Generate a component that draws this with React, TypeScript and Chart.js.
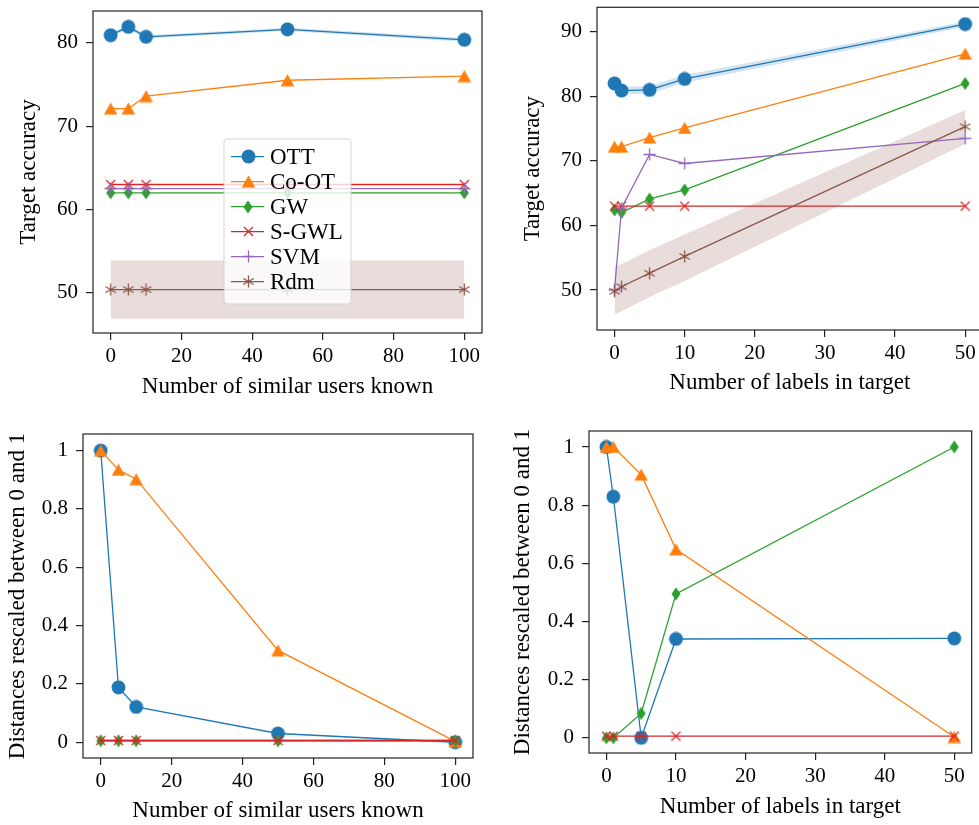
import React, { useEffect, useRef } from "react";
import { Chart, registerables } from "chart.js";
Chart.register(...registerables);

// ---------- colours ----------
const C_OTT = "#1f77b4";
const C_COOT = "#ff7f0e";
const C_GW = "#2ca02c";
const C_SGWL = "#d62728";
const C_SVM = "#9467bd";
const C_RDM = "#8c564b";
const BAND_BLUE = "rgba(31,119,180,0.2)";
const BAND_BROWN = "rgba(140,86,75,0.2)";

// ---------- top-left: accuracy vs similar users ----------
const tlX = [0, 5, 10, 50, 100];
const tlOTT = [80.9, 81.9, 80.7, 81.6, 80.35];
const tlOTTLow = [80.7, 81.6, 80.5, 81.4, 80.1];
const tlOTTHigh = [81.1, 82.2, 80.9, 81.8, 80.6];
const tlCoOT = [72.1, 72.1, 73.6, 75.5, 76.0];
const tlGW = [62.0, 62.0, 62.0, 62.0, 62.0];
const tlSGWL = [63.0, 63.0, 63.0, 63.0, 63.0];
const tlSVM = [62.5, 62.5, 62.5, 62.5, 62.5];
const tlRdm = [50.4, 50.4, 50.4, 50.4, 50.4];
const tlRdmLow = [46.9, 46.9, 46.9, 46.9, 46.9];
const tlRdmHigh = [53.9, 53.9, 53.9, 53.9, 53.9];
const tlXTicks = [0, 20, 40, 60, 80, 100];
const tlXTickLabels = ["0", "20", "40", "60", "80", "100"];
const tlYTicks = [50, 60, 70, 80];
const tlYTickLabels = ["50", "60", "70", "80"];

// ---------- top-right: accuracy vs labels in target ----------
const trX = [0, 1, 5, 10, 50];
const trOTT = [82.0, 80.9, 81.0, 82.7, 91.2];
const trOTTLow = [81.5, 80.3, 80.4, 82.1, 90.8];
const trOTTHigh = [82.5, 81.5, 81.6, 83.3, 91.6];
const trCoOT = [72.2, 72.2, 73.6, 75.1, 86.6];
const trGW = [62.4, 62.0, 64.1, 65.5, 82.0];
const trSGWL = [63.0, 63.0, 63.0, 63.0, 63.0];
const trSVM = [50.0, 62.7, 71.0, 69.6, 73.5];
const trRdm = [49.8, 50.5, 52.6, 55.2, 75.3];
const trRdmLow = [46.2, 46.7, 48.9, 51.4, 72.6];
const trRdmHigh = [53.6, 54.0, 56.2, 58.6, 77.9];
const trXTicks = [0, 10, 20, 30, 40, 50];
const trXTickLabels = ["0", "10", "20", "30", "40", "50"];
const trYTicks = [50, 60, 70, 80, 90];
const trYTickLabels = ["50", "60", "70", "80", "90"];

// ---------- bottom-left: distances vs similar users ----------
const blX = [0, 5, 10, 50, 100];
const blOTT = [1.0, 0.188, 0.121, 0.03, 0.0];
const blCoOT = [1.0, 0.934, 0.902, 0.315, 0.003];
const blGW = [0.005, 0.005, 0.005, 0.005, 0.005];
const blSGWL = [0.006, 0.006, 0.006, 0.006, 0.006];
const blRdm = [0.006, 0.006, 0.006, 0.006, 0.006];
const blXTicks = [0, 20, 40, 60, 80, 100];
const blXTickLabels = ["0", "20", "40", "60", "80", "100"];
const distTicks = [0, 0.2, 0.4, 0.6, 0.8, 1];
const distTickLabels = ["0", "0.2", "0.4", "0.6", "0.8", "1"];

// ---------- bottom-right: distances vs labels in target ----------
const brX = [0, 1, 5, 10, 50];
const brOTT = [1.0, 0.829, 0.0, 0.34, 0.342];
const brCoOT = [1.0, 1.0, 0.905, 0.648, 0.003];
const brGW = [0.0, 0.0, 0.084, 0.495, 1.0];
const brSGWL = [0.006, 0.006, 0.006, 0.006, 0.006];
const brXTicks = [0, 10, 20, 30, 40, 50];
const brXTickLabels = ["0", "10", "20", "30", "40", "50"];

const legendNames = ["OTT", "Co-OT", "GW", "S-GWL", "SVM", "Rdm"];
const legendColors = [C_OTT, C_COOT, C_GW, C_SGWL, C_SVM, C_RDM];
const legendMarkers = ["circle", "triangle", "diamond", "x", "plus", "star"];

const FONT_FAMILY = "'Liberation Serif', 'Times New Roman', serif";

// ---------- markers ----------
function makeMarker(kind: string, color: string): HTMLCanvasElement {
  const c = document.createElement("canvas");
  let w = 15, h = 15;
  if (kind === "triangle") { w = 15; h = 13; }
  if (kind === "diamond") { w = 10; h = 14; }
  if (kind === "x") { w = 11; h = 11; }
  if (kind === "plus") { w = 13; h = 13; }
  if (kind === "star") { w = 13; h = 13; }
  c.width = w; c.height = h;
  const ctx = c.getContext("2d")!;
  ctx.fillStyle = color;
  ctx.strokeStyle = color;
  ctx.lineWidth = 1.3;
  ctx.beginPath();
  if (kind === "circle") {
    ctx.arc(7.5, 7.5, 6.9, 0, Math.PI * 2);
    ctx.fill();
  } else if (kind === "triangle") {
    ctx.moveTo(7.5, 0.5); ctx.lineTo(14.3, 12.5); ctx.lineTo(0.7, 12.5); ctx.closePath();
    ctx.fill();
  } else if (kind === "diamond") {
    ctx.moveTo(5, 0.5); ctx.lineTo(9.5, 7); ctx.lineTo(5, 13.5); ctx.lineTo(0.5, 7); ctx.closePath();
    ctx.fill();
  } else if (kind === "x") {
    ctx.moveTo(1, 1); ctx.lineTo(10, 10); ctx.moveTo(10, 1); ctx.lineTo(1, 10);
    ctx.stroke();
  } else if (kind === "plus") {
    ctx.moveTo(6.5, 0.5); ctx.lineTo(6.5, 12.5); ctx.moveTo(0.5, 6.5); ctx.lineTo(12.5, 6.5);
    ctx.stroke();
  } else if (kind === "star") {
    const r = 6;
    for (const a of [90, 30, 150]) {
      const rad = (a * Math.PI) / 180;
      ctx.moveTo(6.5 + Math.cos(rad) * r, 6.5 - Math.sin(rad) * r);
      ctx.lineTo(6.5 - Math.cos(rad) * r, 6.5 + Math.sin(rad) * r);
    }
    ctx.stroke();
  }
  return c;
}

// ---------- plugins ----------
const framePlugin = {
  id: "frameBox",
  afterDatasetsDraw(chart: any) {
    const { ctx, chartArea: a } = chart;
    ctx.save();
    ctx.strokeStyle = "#222";
    ctx.lineWidth = 1.2;
    ctx.strokeRect(a.left, a.top, a.right - a.left, a.bottom - a.top);
    ctx.restore();
  },
};

const legendPlugin = {
  id: "boxLegend",
  afterDraw(chart: any, _args: any, opts: any) {
    if (!opts || !opts.show) return;
    const ctx = chart.ctx as CanvasRenderingContext2D;
    const { x, y, w, h } = opts;
    ctx.save();
    const r = 3;
    ctx.beginPath();
    ctx.moveTo(x + r, y);
    ctx.lineTo(x + w - r, y);
    ctx.quadraticCurveTo(x + w, y, x + w, y + r);
    ctx.lineTo(x + w, y + h - r);
    ctx.quadraticCurveTo(x + w, y + h, x + w - r, y + h);
    ctx.lineTo(x + r, y + h);
    ctx.quadraticCurveTo(x, y + h, x, y + h - r);
    ctx.lineTo(x, y + r);
    ctx.quadraticCurveTo(x, y, x + r, y);
    ctx.closePath();
    ctx.fillStyle = "rgba(255,255,255,0.8)";
    ctx.fill();
    ctx.strokeStyle = "rgba(204,204,204,0.8)";
    ctx.lineWidth = 1;
    ctx.stroke();
    const markers = opts.markers as HTMLCanvasElement[];
    legendNames.forEach((name, i) => {
      const cy = y + 17.7 + i * 25;
      ctx.strokeStyle = legendColors[i];
      ctx.lineWidth = 1.3;
      ctx.beginPath();
      ctx.moveTo(x + 7, cy);
      ctx.lineTo(x + 40, cy);
      ctx.stroke();
      const m = markers[i];
      ctx.drawImage(m, Math.round(x + 24 - m.width / 2), Math.round(cy - m.height / 2));
      ctx.fillStyle = "#000";
      ctx.font = `23px ${FONT_FAMILY}`;
      ctx.textBaseline = "middle";
      ctx.textAlign = "left";
      ctx.fillText(name, x + 46, cy + 1);
    });
    ctx.restore();
  },
};

// ---------- panel ----------
type Series = { color: string; marker: string | null; x: number[]; y: number[] };
type Band = { x: number[]; lo: number[]; hi: number[]; color: string };
type Panel = {
  left: number; top: number; width: number; height: number;
  yAxisWidth: number; xAxisHeight: number; padRight: number; padTop: number;
  xMin: number; xMax: number; xTicks: number[]; xTickLabels: string[];
  yMin: number; yMax: number; yTicks: number[]; yTickLabels: string[];
  xTitle: string; yTitle: string; xTitlePad: number; yTitlePad: number;
  series: Series[]; bands: Band[]; legend?: boolean;
};

function ChartPanel({ p }: { p: Panel }) {
  const ref = useRef<HTMLCanvasElement | null>(null);
  useEffect(() => {
    if (!ref.current) return;
    const markerCache: Record<string, HTMLCanvasElement> = {};
    const getMarker = (kind: string, color: string) => {
      const k = kind + color;
      if (!markerCache[k]) markerCache[k] = makeMarker(kind, color);
      return markerCache[k];
    };
    const datasets: any[] = [];
    p.bands.forEach((b) => {
      datasets.push({
        data: b.x.map((x, i) => ({ x, y: b.lo[i] })),
        borderColor: "transparent", borderWidth: 0, pointRadius: 0, fill: false, order: 200,
      });
      datasets.push({
        data: b.x.map((x, i) => ({ x, y: b.hi[i] })),
        borderColor: "transparent", borderWidth: 0, pointRadius: 0,
        fill: "-1", backgroundColor: b.color, order: 200,
      });
    });
    p.series.forEach((s, i) => {
      datasets.push({
        data: s.x.map((x, j) => ({ x, y: s.y[j] })),
        borderColor: s.color,
        backgroundColor: s.color,
        borderWidth: 1.3,
        pointStyle: s.marker ? getMarker(s.marker, s.color) : false,
        pointRadius: s.marker ? 6 : 0,
        pointHoverRadius: s.marker ? 6 : 0,
        fill: false,
        tension: 0,
        order: 100 - i,
        clip: 10,
      });
    });
    const tickFont = { family: FONT_FAMILY, size: 21 };
    const titleFont = { family: FONT_FAMILY, size: 23 };
    const gridOpts = {
      display: true, drawOnChartArea: false, drawTicks: true, tickLength: 7,
      color: "#222", lineWidth: 1.2,
    };
    const chart = new Chart(ref.current, {
      type: "line",
      data: { datasets },
      plugins: [framePlugin, legendPlugin],
      options: {
        responsive: false,
        maintainAspectRatio: false,
        animation: false,
        layout: { padding: { left: 0, top: p.padTop, right: p.padRight, bottom: 0 } },
        plugins: {
          legend: { display: false },
          tooltip: { enabled: false },
          // @ts-ignore
          boxLegend: p.legend
            ? {
                show: true, x: 224 - p.left, y: 139 - p.top, w: 127, h: 165,
                markers: legendMarkers.map((m, i) => getMarker(m, legendColors[i])),
              }
            : { show: false },
        },
        scales: {
          x: {
            type: "linear",
            min: p.xMin,
            max: p.xMax,
            afterBuildTicks: (s: any) => { s.ticks = p.xTicks.map((v) => ({ value: v })); },
            afterFit: (s: any) => { s.height = p.xAxisHeight; s.paddingLeft = 0; s.paddingRight = 0; },
            ticks: {
              callback: (_v: any, i: number) => p.xTickLabels[i],
              font: tickFont, color: "#000", padding: 4, maxRotation: 0, autoSkip: false,
            },
            grid: gridOpts,
            border: { display: false },
            title: {
              display: true, text: p.xTitle, font: titleFont, color: "#000",
              padding: { top: 0, bottom: p.xTitlePad },
            },
          },
          y: {
            type: "linear",
            min: p.yMin,
            max: p.yMax,
            afterBuildTicks: (s: any) => { s.ticks = p.yTicks.map((v) => ({ value: v })); },
            afterFit: (s: any) => { s.width = p.yAxisWidth; s.paddingTop = 0; s.paddingBottom = 0; },
            ticks: {
              callback: (_v: any, i: number) => p.yTickLabels[i],
              font: tickFont, color: "#000", padding: 8, autoSkip: false,
            },
            grid: gridOpts,
            border: { display: false },
            title: {
              display: true, text: p.yTitle, font: titleFont, color: "#000",
              padding: { top: p.yTitlePad, bottom: 0 },
            },
          },
        },
      } as any,
    });
    return () => chart.destroy();
  }, [p]);
  return (
    <canvas
      ref={ref}
      width={p.width}
      height={p.height}
      style={{ position: "absolute", left: p.left, top: p.top, width: p.width, height: p.height }}
    />
  );
}

const panels: Panel[] = [
  {
    left: 0, top: 0, width: 490, height: 410,
    yAxisWidth: 93, xAxisHeight: 77, padRight: 8, padTop: 11,
    xMin: -5, xMax: 105, xTicks: tlXTicks, xTickLabels: tlXTickLabels,
    yMin: 45.2, yMax: 83.8, yTicks: tlYTicks, yTickLabels: tlYTickLabels,
    xTitle: "Number of similar users known", yTitle: "Target accuracy",
    xTitlePad: 9, yTitlePad: 15,
    bands: [
      { x: tlX, lo: tlOTTLow, hi: tlOTTHigh, color: BAND_BLUE },
      { x: tlX, lo: tlRdmLow, hi: tlRdmHigh, color: BAND_BROWN },
    ],
    series: [
      { color: C_OTT, marker: "circle", x: tlX, y: tlOTT },
      { color: C_COOT, marker: "triangle", x: tlX, y: tlCoOT },
      { color: C_GW, marker: "diamond", x: tlX, y: tlGW },
      { color: C_SGWL, marker: "x", x: tlX, y: tlSGWL },
      { color: C_SVM, marker: "plus", x: tlX, y: tlSVM },
      { color: C_RDM, marker: "star", x: tlX, y: tlRdm },
    ],
    legend: true,
  },
  {
    left: 490, top: 0, width: 500, height: 410,
    yAxisWidth: 107, xAxisHeight: 80, padRight: 5, padTop: 7,
    xMin: -2.5, xMax: 52.5, xTicks: trXTicks, xTickLabels: trXTickLabels,
    yMin: 43.8, yMax: 93.8, yTicks: trYTicks, yTickLabels: trYTickLabels,
    xTitle: "Number of labels in target", yTitle: "Target accuracy",
    xTitlePad: 13, yTitlePad: 29,
    bands: [
      { x: trX, lo: trOTTLow, hi: trOTTHigh, color: BAND_BLUE },
      { x: trX, lo: trRdmLow, hi: trRdmHigh, color: BAND_BROWN },
    ],
    series: [
      { color: C_OTT, marker: "circle", x: trX, y: trOTT },
      { color: C_COOT, marker: "triangle", x: trX, y: trCoOT },
      { color: C_GW, marker: "diamond", x: trX, y: trGW },
      { color: C_SGWL, marker: "x", x: trX, y: trSGWL },
      { color: C_SVM, marker: "plus", x: trX, y: trSVM },
      { color: C_RDM, marker: "star", x: trX, y: trRdm },
    ],
  },
  {
    left: 0, top: 420, width: 490, height: 405,
    yAxisWidth: 83, xAxisHeight: 67, padRight: 17, padTop: 14,
    xMin: -5, xMax: 105, xTicks: blXTicks, xTickLabels: blXTickLabels,
    yMin: -0.054, yMax: 1.057, yTicks: distTicks, yTickLabels: distTickLabels,
    xTitle: "Number of similar users known", yTitle: "Distances rescaled between 0 and 1",
    xTitlePad: 0, yTitlePad: 4,
    bands: [],
    series: [
      { color: C_OTT, marker: "circle", x: blX, y: blOTT },
      { color: C_COOT, marker: "triangle", x: blX, y: blCoOT },
      { color: C_GW, marker: "diamond", x: blX, y: blGW },
      { color: C_RDM, marker: null, x: blX, y: blRdm },
      { color: C_SGWL, marker: "x", x: blX, y: blSGWL },
    ],
  },
  {
    left: 490, top: 420, width: 489, height: 405,
    yAxisWidth: 99, xAxisHeight: 72, padRight: 2, padTop: 11,
    xMin: -2.5, xMax: 52.5, xTicks: brXTicks, xTickLabels: brXTickLabels,
    yMin: -0.052, yMax: 1.055, yTicks: distTicks, yTickLabels: distTickLabels,
    xTitle: "Number of labels in target", yTitle: "Distances rescaled between 0 and 1",
    xTitlePad: 4, yTitlePad: 19,
    bands: [],
    series: [
      { color: C_OTT, marker: "circle", x: brX, y: brOTT },
      { color: C_COOT, marker: "triangle", x: brX, y: brCoOT },
      { color: C_GW, marker: "diamond", x: brX, y: brGW },
      { color: C_SGWL, marker: "x", x: brX, y: brSGWL },
    ],
  },
];

export default function App() {
  return (
    <div
      style={{
        position: "fixed", left: 0, top: 0, width: 979, height: 825,
        overflow: "hidden", background: "#fff",
      }}
    >
      {panels.map((p, i) => (
        <ChartPanel key={i} p={p} />
      ))}
    </div>
  );
}
